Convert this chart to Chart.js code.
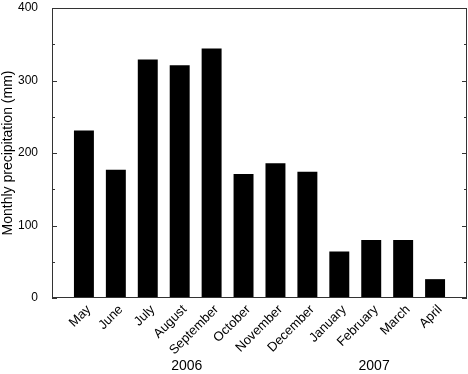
<!DOCTYPE html>
<html>
<head>
<meta charset="utf-8">
<script src="https://cdn.jsdelivr.net/npm/chart.js@4"></script>
<style>
  html, body { margin: 0; padding: 0; background: #fff; }
  #wrap { width: 468px; height: 374px; }
</style>
</head>
<body>
<div id="wrap"><canvas id="rainChart" width="468" height="374"></canvas></div>
<script>
const months = ["May", "June", "July", "August", "September", "October",
  "November", "December", "January", "February", "March", "April"];
const rainfall = [231, 177, 329, 321, 344, 171, 186, 174, 64, 80, 80, 26];
const yTicks = [0, 100, 200, 300, 400];
const years = ["2006", "2007"];

const FONT = "'Liberation Sans', Arial, Helvetica, sans-serif";

// frame around the plot with inward ticks on both vertical sides
const framePlugin = {
  id: "frame",
  afterDatasetsDraw(chart) {
    const { ctx, chartArea: a, scales } = chart;
    const y = scales.y;
    ctx.save();
    ctx.strokeStyle = "#333";
    ctx.lineWidth = 1;
    ctx.strokeRect(Math.round(a.left) + 0.5, Math.round(a.top) + 0.5,
      Math.round(a.right - a.left) - 1, Math.round(a.bottom - a.top) - 1);
    ctx.beginPath();
    for (let v = 0; v <= 400; v += 50) {
      const py = Math.round(y.getPixelForValue(v)) + 0.5;
      const len = v % 100 === 0 ? 5 : 3;
      ctx.moveTo(a.left, py); ctx.lineTo(a.left + len, py);
      ctx.moveTo(a.right, py); ctx.lineTo(a.right - len, py);
    }
    ctx.stroke();

    // year labels under the month names
    ctx.fillStyle = "#000";
    ctx.font = "14px " + FONT;
    ctx.textAlign = "center";
    ctx.textBaseline = "middle";
    ctx.fillText(years[0], scales.x.getPixelForValue(4.22), 366);
    ctx.fillText(years[1], scales.x.getPixelForValue(10.09), 366);
    ctx.restore();
  }
};

new Chart(document.getElementById("rainChart"), {
  type: "bar",
  data: {
    datasets: [{
      data: rainfall.map((v, i) => ({ x: i + 1, y: v })),
      backgroundColor: "#000",
      borderWidth: 0,
      barPercentage: 1,
      categoryPercentage: 0.625
    }]
  },
  options: {
    responsive: false,
    animation: false,
    devicePixelRatio: 1,
    layout: { padding: { top: 8, right: 1, left: 0, bottom: 0 } },
    plugins: {
      legend: { display: false },
      tooltip: { enabled: false }
    },
    scales: {
      x: {
        type: "linear",
        min: 0,
        max: 13,
        offset: false,
        grid: { display: false },
        border: { display: false },
        ticks: {
          stepSize: 1,
          autoSkip: false,
          maxRotation: 45,
          minRotation: 45,
          padding: -4,
          labelOffset: 5,
          color: "#000",
          font: { family: FONT, size: 13 },
          callback: v => months[v - 1] || ""
        },
        afterFit: s => {
          s.height = 76;
          s.paddingLeft = 0;
          s.paddingRight = 0;
        }
      },
      y: {
        min: 0,
        max: 400,
        grid: { display: false },
        border: { display: false },
        afterBuildTicks: s => { s.ticks = yTicks.map(v => ({ value: v })); },
        ticks: {
          padding: 6,
          color: "#000",
          font: { family: FONT, size: 12 }
        },
        title: {
          display: true,
          text: "Monthly precipitation (mm)",
          color: "#000",
          font: { family: FONT, size: 14 },
          padding: { top: 0, bottom: 0 }
        },
        afterFit: s => {
          s.width = 52;
          s.paddingTop = 0;
          s.paddingBottom = 0;
        }
      }
    }
  },
  plugins: [framePlugin]
});
</script>
</body>
</html>
